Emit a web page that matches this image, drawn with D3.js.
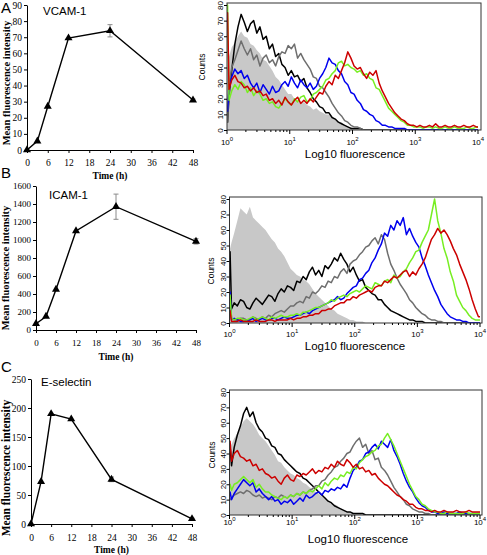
<!DOCTYPE html>
<html><head><meta charset="utf-8">
<script src="https://cdn.jsdelivr.net/npm/d3@7"></script>
<style>body{margin:0;background:#fff}svg{display:block}</style>
</head><body>
<svg id="c" width="487" height="555"></svg>
<script>
// ---------- time-course data ----------
const times = [0, 3, 6, 12, 24, 48];
const timeTicks = [0, 6, 12, 18, 24, 30, 36, 42, 48];
const vcamMFI = [0, 5.5, 27, 69.5, 74, 31];
const vcamErr = [0, 0, 0, 0, 3.8, 0.6];
const vcamTicks = [0, 10, 20, 30, 40, 50, 60, 70, 80, 90];
const icamMFI = [70, 150, 450, 1100, 1370, 985];
const icamErr = [0, 0, 0, 0, 140, 30];
const icamTicks = [0, 200, 400, 600, 800, 1000, 1200, 1400, 1600];
const eselMFI = [0, 73, 190, 181, 77, 9];
const eselErr = [0, 0, 0, 0, 4, 1];
const eselTicks = [0, 50, 100, 150, 200, 250];

// ---------- histogram data: counts per channel (first = lowest channel, then 20 bins per decade;
// channels not listed hold 0 counts) ----------
const countTicks = [0, 10, 20, 30, 40, 50, 60, 70, 80];
const decadeTicks = [0, 1, 2, 3, 4];
const binEdges = [0, 0.015].concat(d3.range(1, 81).map(i => i / 20)); // log10 channel edges

const vcamFill  = [40, 47,53,56,60,63,60,59,55,54,51,49,45,44,41,38,34,32,29,26,23, 23,20,19,17,18,16,15,13,14,12,11,10,10,8,7,5,5,3,2,2, 1,1,1,0];
const vcamBlack = [5, 22,38,55,66,74,69,63,68,70,62,66,58,60,52,55,47,49,42,40,35, 38,34,35,31,33,27,24,20,18,15,14,11,11,8,7,5,4,3,2,1, 1,1,1,0];
const vcamGray  = [5, 28,40,45,51,57,52,48,52,45,48,41,46,48,43,45,41,47,50,49,54, 52,55,46,49,45,42,39,34,33,28,27,24,21,17,14,11,9,6,5,3, 2,2,1,0];
const vcamBlue  = [12, 26,34,39,36,38,33,35,30,27,30,24,29,26,23,28,24,25,29,31,28, 34,30,27,32,29,27,30,26,28,33,36,40,46,43,42,38,36,31,29,24, 23,19,17,13,12,10,9,6,5,3,3,2,2,1,1,1,1,0];
const vcamGreen = [80, 19,25,29,26,31,29,24,27,22,25,23,19,20,17,18,15,14,17,20,18, 16,20,18,21,22,18,19,23,24,26,28,32,33,36,38,43,44,41,42,40, 39,37,38,35,36,33,32,27,26,22,18,14,12,10,8,6,5,3,3,2, 2,2,1,2,2,1,2,1,1,2,1,1,2,1,1,1,2,1,1,2];
const vcamRed   = [75, 26,32,35,31,30,27,28,25,27,24,25,22,23,19,20,17,19,16,21,18, 16,19,21,17,19,17,20,18,21,24,23,28,31,29,35,33,38,43,50,46, 41,39,40,36,33,37,35,38,30,25,21,17,14,11,9,7,6,4,3,3, 2,3,2,2,3,2,4,2,2,3,2,2,3,2,2,3,2,2,3,2];

const icamFill  = [48, 52,58,66,74,72,70,75,68,66,64,62,60,57,54,52,48,46,43,39,35, 33,31,30,28,27,25,22,19,17,15,13,11,9,8,6,5,4,3,2,2, 1,1,1,0];
const icamBlack = [46, 9,13,11,15,14,10,9,13,16,14,12,15,18,17,14,19,22,20,24,23, 21,27,26,30,28,33,36,31,34,30,37,35,38,42,40,45,41,38,33,36, 31,27,28,23,21,19,18,15,15,12,10,8,7,6,5,4,3,2,2,1, 1,1,0];
const icamGray  = [5, 3,2,2,3,3,2,2,4,3,2,4,3,5,4,6,7,8,7,9,11, 11,13,14,13,17,16,20,19,21,24,23,27,26,30,29,33,35,32,38,40, 41,44,46,49,50,53,55,51,57,54,45,38,34,29,25,22,19,15,13,10, 8,6,5,3,2,2,1,1];
const icamBlue  = [20, 2,3,2,1,1,2,2,3,1,2,3,2,2,3,3,2,3,4,3,3, 4,5,5,6,7,6,8,9,10,11,12,13,14,15,17,15,16,19,21,23, 24,28,29,32,34,39,42,47,51,58,56,63,60,66,63,68,57,61,56,52, 49,42,37,31,26,21,17,12,9,6,4,3,2,2,1,1];
const icamGreen = [18, 3,2,3,3,2,2,3,4,2,3,4,3,2,4,3,4,5,4,4,5, 5,6,5,7,7,8,9,10,10,11,12,13,15,14,16,17,18,17,19,20, 21,20,22,24,23,22,26,25,24,27,28,26,31,29,30,33,35,39,42,46, 47,52,56,60,70,80,66,58,48,42,33,27,18,14,10,8,5,3,2,2];
const icamRed   = [8, 1,1,1,2,1,1,1,1,2,1,1,1,2,2,1,2,2,2,2,3, 2,3,3,4,4,5,5,6,6,8,8,9,9,11,12,13,13,15,15,17, 16,18,19,20,21,20,23,24,24,27,26,28,30,29,31,33,34,30,33,31, 35,38,42,48,54,57,61,58,60,57,53,48,44,38,33,28,22,15,9,4];

const eselFill  = [45, 46,50,53,57,61,63,61,59,56,52,50,48,45,42,39,35,34,31,29,27, 26,24,23,21,20,18,17,15,14,12,11,9,8,7,6,4,3,2,2,1, 1,1,0];
const eselBlack = [45, 32,44,52,58,66,70,64,67,60,56,54,50,49,45,44,40,39,36,34,32, 30,28,27,24,23,21,19,17,15,13,11,9,8,6,5,4,3,2,2,1, 1,1,1,0];
const eselGray  = [10, 11,13,14,15,14,16,15,13,12,13,11,12,11,10,12,11,13,12,11,13, 12,14,13,15,14,16,17,19,19,22,23,26,28,31,32,35,37,40,41,45, 48,50,44,46,40,42,36,37,31,29,26,22,18,15,12,10,7,6,4,3, 2,2,1,1];
const eselBlue  = [15, 10,14,17,20,23,21,19,21,15,17,14,12,10,12,9,10,7,9,8,10, 7,9,11,9,13,11,12,14,15,13,16,15,17,16,18,17,20,18,24,29, 31,35,36,40,41,44,46,43,48,46,44,49,42,38,33,27,22,18,15,11, 8,6,5,3,2,2,1,1,2,1,1,1,1,2,1,1,1,1,1,1];
const eselGreen = [20, 16,20,21,23,25,23,21,23,18,20,17,15,15,13,12,11,10,12,11,13, 12,14,13,15,14,16,15,17,19,17,21,19,22,24,23,26,25,28,27,31, 30,34,36,38,39,41,42,45,46,50,53,49,45,40,35,30,25,20,16,12, 10,7,6,4,3,2,2,1,1,2,1,1,1,1,1,2,1,1,1,1];
const eselRed   = [48, 35,40,42,38,37,35,36,32,33,29,30,27,26,24,25,22,20,24,26,23, 22,26,25,27,26,28,30,27,29,28,31,30,33,31,35,33,32,36,34,31, 33,30,31,28,29,26,27,24,22,20,19,17,15,13,12,10,9,7,7,5, 4,4,3,3,2,3,2,2,3,2,2,2,3,2,2,2,3,2,2,2];

const serif = '"Liberation Serif","Times New Roman",serif';
const sans = '"Liberation Sans",Arial,sans-serif';
const svg = d3.select('#c');

// ---------- panel letters ----------
[['A', 13], ['B', 178], ['C', 372]].forEach(([t, y]) => {
  svg.append('text').attr('x', 1).attr('y', y).attr('font-family', sans).attr('font-size', 15).text(t);
});

// ---------- time-course panels ----------
const linePanels = [
  {name: 'VCAM-1', mfi: vcamMFI, err: vcamErr, ticks: vcamTicks, x0: 27, x1: 193, y0: 150, y1: 5,
   tickY: 166, titleY: 179, nameX: 43, nameY: 15, ytX: 10, ytY: 83, ytSize: 10.5, fs: 9.5},
  {name: 'ICAM-1', mfi: icamMFI, err: icamErr, ticks: icamTicks, x0: 36, x1: 196, y0: 330, y1: 186,
   tickY: 346, titleY: 360, nameX: 49, nameY: 199, ytX: 9, ytY: 268, ytSize: 10.5, fs: 9},
  {name: 'E-selectin', mfi: eselMFI, err: eselErr, ticks: eselTicks, x0: 31, x1: 192, y0: 524, y1: 379,
   tickY: 541, titleY: 553, nameX: 41, nameY: 386, ytX: 10, ytY: 468, ytSize: 11.5, fs: 9.5}
];

linePanels.forEach(p => {
  const g = svg.append('g');
  const x = d3.scaleLinear().domain([0, 48]).range([p.x0, p.x1]);
  const y = d3.scaleLinear().domain([0, p.ticks[p.ticks.length - 1]]).range([p.y0, p.y1]);

  const xa = g.append('g').attr('transform', `translate(0,${p.y0})`)
    .call(d3.axisBottom(x).tickValues(timeTicks).tickSize(3).tickSizeOuter(0));
  xa.selectAll('text').attr('y', p.tickY - p.y0).attr('dy', 0)
    .attr('font-family', serif).attr('font-size', p.fs).attr('fill', '#000');
  const ya = g.append('g').attr('transform', `translate(${p.x0},0)`)
    .call(d3.axisLeft(y).tickValues(p.ticks).tickFormat(d3.format('d')).tickSize(3).tickSizeOuter(0));
  ya.selectAll('text').attr('x', -5).attr('font-family', serif).attr('font-size', p.fs).attr('fill', '#000');
  g.selectAll('.domain, .tick line').attr('stroke', '#000');

  g.append('text').attr('x', (p.x0 + p.x1) / 2).attr('y', p.titleY).attr('text-anchor', 'middle')
    .attr('font-family', serif).attr('font-weight', 'bold').attr('font-size', 9.5).text('Time (h)');
  g.append('text').attr('transform', `translate(${p.ytX},${p.ytY}) rotate(-90)`).attr('text-anchor', 'middle')
    .attr('font-family', serif).attr('font-weight', 'bold').attr('font-size', p.ytSize).text('Mean fluorescence intensity');
  g.append('text').attr('x', p.nameX).attr('y', p.nameY).attr('font-family', sans).attr('font-size', 11.5).text(p.name);

  const pts = times.map((t, i) => ({t, v: p.mfi[i], e: p.err[i]}));
  pts.filter(d => d.e > 0).forEach(d => {
    const eb = g.append('g').attr('stroke', '#8a8a8a').attr('stroke-width', 1);
    eb.append('line').attr('x1', x(d.t)).attr('x2', x(d.t)).attr('y1', y(d.v - d.e)).attr('y2', y(d.v + d.e));
    [d.v - d.e, d.v + d.e].forEach(v => eb.append('line')
      .attr('x1', x(d.t) - 2.5).attr('x2', x(d.t) + 2.5).attr('y1', y(v)).attr('y2', y(v)));
  });
  g.append('path').datum(pts).attr('fill', 'none').attr('stroke', '#000').attr('stroke-width', 1.4)
    .attr('d', d3.line().x(d => x(d.t)).y(d => y(d.v)));
  g.selectAll('.mk').data(pts).enter().append('path')
    .attr('transform', d => `translate(${x(d.t)},${y(d.v)})`)
    .attr('d', d3.symbol(d3.symbolTriangle, 28)).attr('fill', '#000');
});

// ---------- histogram panels ----------
const histPanels = [
  {series: [vcamBlack, vcamGray, vcamBlue, vcamGreen, vcamRed], fill: vcamFill,
   x0: 227, x1: 478, y0: 130, y1: 5, top: 3, right: 481, tickY: 145, titleY: 158, titleX: 355, cX: 205, cY: 67},
  {series: [icamBlack, icamGray, icamBlue, icamGreen, icamRed], fill: icamFill,
   x0: 229.5, x1: 480, y0: 323, y1: 199, top: 197, right: 482, tickY: 337, titleY: 350, titleX: 355, cX: 214, cY: 271},
  {series: [eselBlack, eselGray, eselBlue, eselGreen, eselRed], fill: eselFill,
   x0: 229.5, x1: 480, y0: 515, y1: 392, top: 390, right: 482, tickY: 525, titleY: 543, titleX: 358, cX: 215, cY: 455}
];
const colors = ['#000000', '#6e6e6e', '#0000ee', '#77ee22', '#cc0000'];
const nBins = binEdges.length - 1;

histPanels.forEach((p, pi) => {
  const g = svg.append('g');
  const x = d3.scaleLinear().domain([0, 4]).range([p.x0, p.x1]); // log10 units
  const y = d3.scaleLinear().domain([0, 80]).range([p.y0, p.y1]);
  const cid = 'clip' + pi;
  g.append('clipPath').attr('id', cid).append('rect')
    .attr('x', p.x0).attr('y', p.top).attr('width', p.right - p.x0).attr('height', p.y0 - p.top);

  // first channel as a narrow spike, the others at channel centres
  const pts = vals => {
    const v = i => (i < vals.length ? vals[i] : 0);
    const out = [[binEdges[0], v(0)], [binEdges[1] * 0.6, v(0)]];
    for (let i = 1; i < nBins; i++) out.push([(binEdges[i] + binEdges[i + 1]) / 2, v(i)]);
    out.push([binEdges[nBins], v(nBins - 1)]);
    return out;
  };
  g.append('path').attr('clip-path', `url(#${cid})`).attr('fill', '#c8c8c8')
    .attr('d', d3.area().x(d => x(d[0])).y0(p.y0).y1(d => y(d[1]))(pts(p.fill)));
  p.series.forEach((s, si) => {
    g.append('path').attr('clip-path', `url(#${cid})`).attr('fill', 'none')
      .attr('stroke', colors[si]).attr('stroke-width', 1.5).attr('stroke-linejoin', 'round')
      .attr('d', d3.line().x(d => x(d[0])).y(d => y(d[1]))(pts(s)));
  });

  g.append('rect').attr('x', p.x0).attr('y', p.top).attr('width', p.right - p.x0).attr('height', p.y0 - p.top)
    .attr('fill', 'none').attr('stroke', '#333').attr('stroke-width', 1);

  const ya = g.append('g').attr('transform', `translate(${p.x0},0)`)
    .call(d3.axisLeft(y).tickValues(countTicks).tickSize(3).tickSizeOuter(0));
  ya.select('.domain').remove();
  ya.selectAll('.tick line').attr('stroke', '#000');
  ya.selectAll('text').attr('x', 0).attr('dy', 0)
    .attr('transform', `translate(-4,0) rotate(-90)`).attr('text-anchor', 'middle')
    .attr('font-family', sans).attr('font-size', 8).attr('fill', '#000');
  g.append('text').attr('transform', `translate(${p.cX},${p.cY}) rotate(-90)`).attr('text-anchor', 'middle')
    .attr('font-family', sans).attr('font-size', 8.5).text('Counts');

  const minor = [];
  for (let d = 0; d < 4; d++) for (let m = 2; m <= 9; m++) minor.push(d + Math.log10(m));
  minor.forEach(v => g.append('line').attr('x1', x(v)).attr('x2', x(v)).attr('y1', p.y0).attr('y2', p.y0 + 2).attr('stroke', '#000'));
  decadeTicks.forEach(v => {
    g.append('line').attr('x1', x(v)).attr('x2', x(v)).attr('y1', p.y0).attr('y2', p.y0 + 4).attr('stroke', '#000');
    const t = g.append('text').attr('x', x(v)).attr('y', p.tickY).attr('text-anchor', 'middle')
      .attr('font-family', sans).attr('font-size', 8);
    t.append('tspan').text('10');
    t.append('tspan').attr('dy', -4).attr('font-size', 6).text(v);
  });
  g.append('text').attr('x', p.titleX).attr('y', p.titleY).attr('text-anchor', 'middle')
    .attr('font-family', sans).attr('font-size', 11.5).text('Log10 fluorescence');
});
</script></body></html>
